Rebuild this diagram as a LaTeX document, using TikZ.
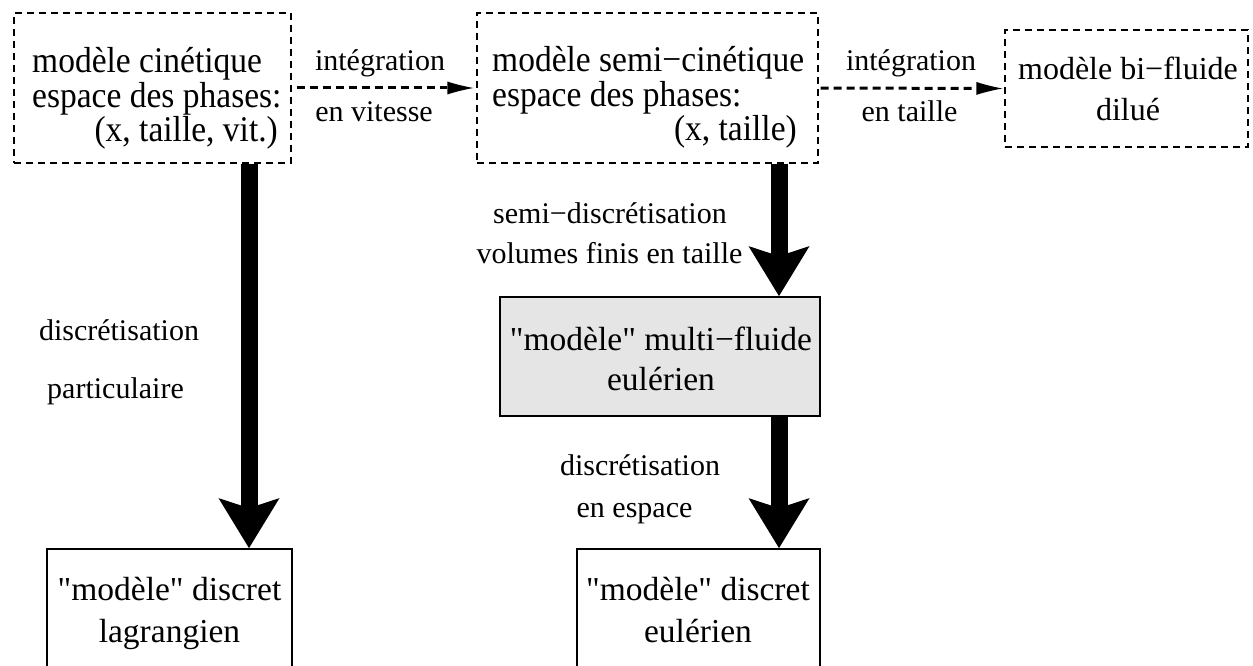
\documentclass[tikz,border=0pt]{standalone}
\usepackage{fontspec}
\setmainfont{Liberation Serif}[Ligatures=TeXOff]
\usetikzlibrary{arrows.meta}
\definecolor{boxgray}{HTML}{E5E5E5}
\newcommand{\boxfontA}{\fontsize{33.5}{34}\selectfont}
\newcommand{\boxfontB}{\fontsize{33.5}{40}\selectfont}
\newcommand{\boxfontC}{\fontsize{33.5}{42}\selectfont}
\newcommand{\boxfontD}{\fontsize{32}{41}\selectfont}
\newcommand{\lblfont}{\fontsize{30}{36}\selectfont}
\newcommand{\tall}[1]{\scalebox{1}[1.08]{#1}}
\tikzset{
  dbox/.style={draw, line width=1.3pt, dash pattern=on 7pt off 5pt, inner sep=0pt},
  sbox/.style={draw, line width=1.8pt, inner sep=0pt},
  txt/.style={inner sep=0pt},
  tline/.style={inner sep=0pt, font=\boxfontA},
  lbl/.style={inner sep=0pt, font=\lblfont, anchor=base},
  dasharrow/.style={line width=3pt, dash pattern=on 8pt off 5pt,
    -{Latex[length=26pt,width=13pt,line width=0pt]}},
  bigarrow/.style={line width=17pt,
    -{Stealth[length=50pt,width=61pt,inset=10pt,line width=0pt]}}
}
\begin{document}
\begin{tikzpicture}[x=1pt,y=-1pt]
\useasboundingbox (0,0) rectangle (1253,666);
\clip (0,0) rectangle (1253,666);

% boxes
\node[dbox, minimum width=277pt, minimum height=150pt] (b1) at (152.5,88) {};
\node[dbox, minimum width=341pt, minimum height=150pt] (b2) at (647.5,88) {};
\node[dbox, minimum width=243pt, minimum height=117pt] (b3) at (1126.5,88.5) {};
\node[sbox, fill=boxgray, minimum width=320pt, minimum height=119pt] (mf) at (660,356.5) {};
\node[sbox, minimum width=245pt, minimum height=151pt] (bl) at (169.5,624.5) {};
\node[sbox, minimum width=243pt, minimum height=151pt] (br) at (698.5,624.5) {};

% box texts
\node[tline, anchor=base west] (b1a) at (32,73) {\tall{modèle cinétique}};
\node[tline, anchor=base west] (b1b) at (32,108) {\tall{espace des phases:}};
\node[tline, anchor=base east] (b1c) at (278,142) {\tall{(x, taille, vit.)}};
\node[tline, anchor=base west] (b2a) at (492,72) {\tall{modèle semi−cinétique}};
\node[tline, anchor=base west] (b2b) at (492,107) {\tall{espace des phases:}};
\node[tline, anchor=base east] (b2c) at (797,141) {\tall{(x, taille)}};
\node[txt, font=\boxfontD, anchor=base] (b3t) at (1128,80)
  {\begin{tabular}[t]{@{}c@{}}modèle bi−fluide\\dilué\end{tabular}};
\node[txt, font=\boxfontB, anchor=base] (mft) at (661,350)
  {\begin{tabular}[t]{@{}c@{}}"modèle" multi−fluide\\eulérien\end{tabular}};
\node[txt, font=\boxfontC, anchor=base] (blt) at (169.5,600)
  {\begin{tabular}[t]{@{}c@{}}"modèle" discret\\lagrangien\end{tabular}};
\node[txt, font=\boxfontC, anchor=base] (brt) at (698,600)
  {\begin{tabular}[t]{@{}c@{}}"modèle" discret\\eulérien\end{tabular}};

% connector labels
\node[lbl] (l1a) at (380,71) {intégration};
\node[lbl] (l1b) at (374,122) {en vitesse};
\node[lbl] (l2a) at (911,71) {intégration};
\node[lbl] (l2b) at (909.5,122) {en taille};
\node[lbl] (l3a) at (610,223) {semi−discrétisation};
\node[lbl] (l3b) at (609.5,263) {volumes finis en taille};
\node[lbl] (l4a) at (119,340) {discrétisation};
\node[lbl] (l4b) at (115.5,398) {particulaire};
\node[lbl] (l5a) at (640,475) {discrétisation};
\node[lbl] (l5b) at (634.5,517) {en espace};

% dashed connectors
\draw[dasharrow, shorten <=5pt, shorten >=3pt] (b1.east) -- (b2.west);
\draw[dasharrow, shorten <=2pt, shorten >=2pt] (b2.east) -- (b3.west);

% thick connectors
\coordinate (xa) at (249,0);
\coordinate (xb) at (779,0);
\draw[bigarrow] (b1.south -| xa) -- (bl.north -| xa);
\draw[bigarrow] (b2.south -| xb) -- (mf.north -| xb);
\draw[bigarrow] (mf.south -| xb) -- (br.north -| xb);
\end{tikzpicture}
\end{document}
